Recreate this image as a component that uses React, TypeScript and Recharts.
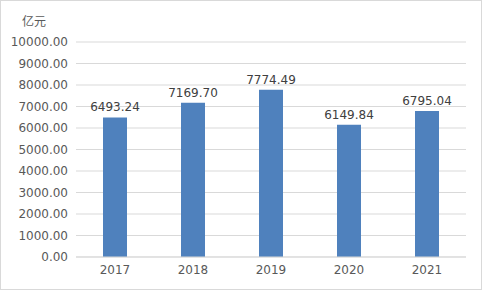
import { BarChart, Bar, XAxis, YAxis, CartesianGrid, LabelList } from "recharts";

const years = ["2017", "2018", "2019", "2020", "2021"];
const amounts = [6493.24, 7169.7, 7774.49, 6149.84, 6795.04];
const yTicks = [0, 1000, 2000, 3000, 4000, 5000, 6000, 7000, 8000, 9000, 10000];

const data = years.map((year, i) => ({ year, value: amounts[i] }));

const font = "'DejaVu Sans', sans-serif";
const textColor = "#595959";

export default function App() {
  return (
    <div
      style={{
        position: "relative",
        width: 480,
        height: 288,
        border: "1px solid #d9d9d9",
        background: "#fff",
      }}
    >
      <style>{"body{margin:0}"}</style>
      <div
        style={{
          position: "absolute",
          left: 21,
          top: 11,
          fontSize: 12,
          color: textColor,
          fontFamily: "'Noto Sans CJK SC', sans-serif",
        }}
      >
        亿元
      </div>
      <BarChart
        width={480}
        height={288}
        data={data}
        margin={{ top: 41, right: 15, left: 0, bottom: 8 }}
      >
        <CartesianGrid vertical={false} stroke="#d9d9d9" />
        <XAxis
          dataKey="year"
          height={24}
          axisLine={{ stroke: "#d9d9d9" }}
          tickLine={false}
          tick={{ fill: textColor, fontSize: 12, fontFamily: font }}
        />
        <YAxis
          width={75}
          domain={[0, 10000]}
          ticks={yTicks}
          interval={0}
          axisLine={false}
          tickLine={false}
          tickFormatter={(v: number) => v.toFixed(2)}
          tick={{ fill: textColor, fontSize: 12, fontFamily: font }}
        />
        <Bar dataKey="value" fill="#4f81bd" barSize={24} isAnimationActive={false}>
          <LabelList
            dataKey="value"
            position="top"
            offset={6}
            formatter={(v: number) => v.toFixed(2)}
            style={{ fill: "#404040", fontSize: 12, fontFamily: font }}
          />
        </Bar>
      </BarChart>
    </div>
  );
}
